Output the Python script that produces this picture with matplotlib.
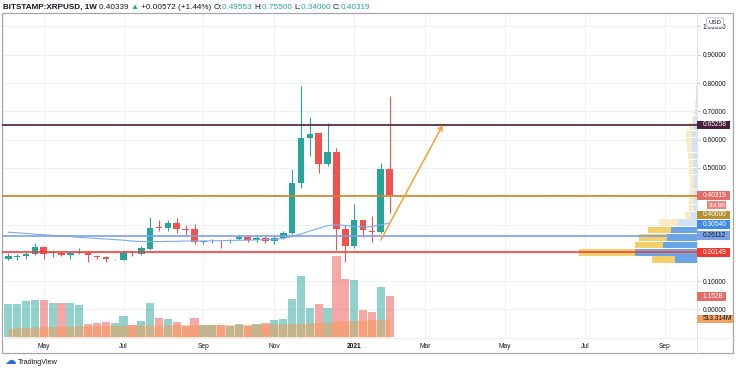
import numpy as np
import pandas as pd
import matplotlib
matplotlib.use('Agg')
import matplotlib.pyplot as plt
import matplotlib.dates as mdates
from matplotlib.patches import Rectangle
from matplotlib.lines import Line2D

plt.rcParams['font.family'] = ['Liberation Sans', 'DejaVu Sans']

# --- weekly candles, BITSTAMP:XRPUSD ---
weeks = pd.date_range('2020-04-06', periods=44, freq='7D')
opens = [0.178, 0.187, 0.189, 0.196, 0.220, 0.199, 0.201, 0.193, 0.200, 0.201,
         0.190, 0.187, 0.178, 0.175, 0.201, 0.196, 0.213, 0.290, 0.287, 0.305,
         0.284, 0.283, 0.240, 0.241, 0.243, 0.241, 0.248, 0.256, 0.245, 0.253,
         0.242, 0.252, 0.269, 0.446, 0.605, 0.623, 0.513, 0.557, 0.283, 0.225,
         0.316, 0.279, 0.273, 0.49553]
highs = [0.198, 0.197, 0.204, 0.236, 0.224, 0.210, 0.204, 0.207, 0.216, 0.206,
         0.193, 0.189, 0.180, 0.207, 0.207, 0.225, 0.328, 0.316, 0.316, 0.322,
         0.299, 0.302, 0.244, 0.248, 0.245, 0.250, 0.262, 0.259, 0.259, 0.259,
         0.259, 0.278, 0.495, 0.790, 0.681, 0.625, 0.660, 0.570, 0.300, 0.373,
         0.317, 0.330, 0.517, 0.755]
lows = [0.175, 0.176, 0.180, 0.193, 0.177, 0.185, 0.189, 0.178, 0.196, 0.169,
        0.178, 0.169, 0.175, 0.174, 0.190, 0.193, 0.210, 0.277, 0.277, 0.270,
        0.263, 0.233, 0.233, 0.236, 0.218, 0.236, 0.244, 0.240, 0.238, 0.235,
        0.232, 0.248, 0.265, 0.430, 0.542, 0.483, 0.508, 0.210, 0.169, 0.216,
        0.255, 0.237, 0.270, 0.340]
closes = [0.190, 0.190, 0.196, 0.220, 0.196, 0.202, 0.192, 0.201, 0.202, 0.192,
          0.185, 0.178, 0.179, 0.199, 0.198, 0.216, 0.289, 0.288, 0.305, 0.283,
          0.282, 0.240, 0.241, 0.243, 0.241, 0.244, 0.256, 0.245, 0.253, 0.242,
          0.253, 0.269, 0.446, 0.605, 0.620, 0.513, 0.557, 0.283, 0.225, 0.316,
          0.280, 0.273, 0.495, 0.40319]
# volume in billions XRP and its moving average
volumes = [0.93, 0.93, 1.02, 1.05, 1.04, 0.96, 0.96, 0.95, 0.90, 0.36,
           0.39, 0.42, 0.39, 0.59, 0.35, 0.44, 0.96, 0.53, 0.50, 0.43,
           0.31, 0.53, 0.35, 0.35, 0.35, 0.31, 0.38, 0.31, 0.38, 0.40,
           0.49, 0.51, 1.07, 1.73, 0.81, 0.93, 0.81, 2.29, 1.65, 1.62,
           0.77, 0.72, 1.41, 1.152]
volume_ma = [0.25, 0.26, 0.27, 0.28, 0.29, 0.30, 0.30, 0.31, 0.32, 0.32,
             0.32, 0.33, 0.33, 0.33, 0.33, 0.34, 0.34, 0.34, 0.34, 0.35,
             0.35, 0.35, 0.35, 0.35, 0.35, 0.35, 0.35, 0.36, 0.36, 0.36,
             0.37, 0.37, 0.38, 0.39, 0.40, 0.41, 0.42, 0.44, 0.46, 0.47,
             0.48, 0.49, 0.50, 0.513314]
price_ma = [0.273, 0.271, 0.269, 0.266, 0.264, 0.262, 0.260, 0.258, 0.255, 0.253,
            0.251, 0.249, 0.247, 0.245, 0.242, 0.240, 0.240, 0.240, 0.241, 0.241,
            0.242, 0.242, 0.242, 0.243, 0.243, 0.244, 0.245, 0.245, 0.246, 0.247,
            0.248, 0.251, 0.258, 0.267, 0.277, 0.287, 0.296, 0.299, 0.297, 0.293,
            0.292, 0.293, 0.299, 0.3054]

# horizontal levels drawn on the chart
level_prices = [0.65258, 0.40000, 0.26112, 0.20149]
level_colors = ['#4a1d38', '#c4931f', '#7b9fe4', '#f0413a']

# projected move (arrow)
arrow_from = ('2021-01-25', 0.2456)
arrow_to = ('2021-03-15', 0.65258)

# visible range volume profile: row centre price, up / down volume
prof_price = [0.176, 0.202, 0.228, 0.254, 0.281, 0.307, 0.333, 0.359, 0.385, 0.411,
              0.437, 0.463, 0.489, 0.515, 0.542, 0.568, 0.594, 0.620, 0.646, 0.672,
              0.698, 0.724, 0.750, 0.777]
prof_up = [23.6, 56, 27.4, 28, 23, 19, 6, 4.3, 5, 4.3,
           3.5, 3.5, 4, 4, 5, 5, 6, 6, 4, 2,
           1, 0.7, 0.4, 0.3]
prof_down = [21.7, 62, 34.3, 30, 26, 19.3, 6, 3.3, 3, 2.7,
             3, 3, 3.5, 4, 4, 4.5, 5, 5, 4, 3,
             2, 1.3, 1, 0.7]
value_area_rows = 5

# axis ticks
price_ticks = [0.0, 0.1, 0.2, 0.3, 0.4, 0.5, 0.6, 0.7, 0.8, 0.9, 1.0]
price_tick_labels = ['0.00000', '0.10000', '', '', '', '0.50000', '0.60000',
                     '0.70000', '0.80000', '0.90000', '1.00000']
month_ticks = pd.to_datetime(['2020-05-04', '2020-07-06', '2020-09-07', '2020-11-02',
                              '2021-01-04', '2021-03-01', '2021-05-03', '2021-07-05',
                              '2021-09-06'])
month_labels = ['May', 'Jul', 'Sep', 'Nov', '2021', 'Mar', 'May', 'Jul', 'Sep']

UP = '#26a69a'
DOWN = '#ef5350'
TXT = '#131722'

W, H = 736, 372
fig = plt.figure(figsize=(W / 100, H / 100), dpi=100)


def box(x0, y0, x1, y1):
    # pixel box, origin top-left -> figure fraction rect
    return [x0 / W, 1 - y1 / H, (x1 - x0) / W, (y1 - y0) / H]


plot_rect = box(2, 13, 697, 337)
scale_rect = box(697, 13, 733, 337)

bg = fig.add_axes(plot_rect, zorder=0)
prof_ax = fig.add_axes(plot_rect, zorder=1, sharey=bg)
vol_ax = fig.add_axes(plot_rect, zorder=2, sharex=bg)
ax = fig.add_axes(plot_rect, zorder=3, sharex=bg, sharey=bg)
scale_ax = fig.add_axes(scale_rect, zorder=4, sharey=bg)
vscale_ax = fig.add_axes(scale_rect, zorder=4, sharey=vol_ax)

# background axes: grid + tick labels
bg.set_xlim(pd.Timestamp('2020-04-01 01:00'), pd.Timestamp('2021-10-01 14:00'))
bg.set_ylim(-0.0972, 1.0477)
bg.set_yticks(price_ticks)
bg.set_yticklabels(price_tick_labels)
bg.set_xticks(month_ticks)
bg.set_xticklabels(month_labels)
for lab in bg.get_xticklabels():
    if lab.get_text() == '2021':
        lab.set_fontweight('bold')
bg.yaxis.tick_right()
bg.tick_params(axis='y', length=2, width=0.6, color='#b2b5be', pad=2,
               labelsize=4.8, labelcolor=TXT)
bg.tick_params(axis='x', length=0, pad=4, labelsize=4.8, labelcolor=TXT)
bg.grid(color='#eef0f6', lw=0.7)
for s in bg.spines.values():
    s.set_visible(False)

# volume profile on the right
prof_ax.set_xlim(695, 0)
prof_ax.axis('off')
row_h = 0.0235
for i, (p, u, d) in enumerate(zip(prof_price, prof_up, prof_down)):
    inside = i < value_area_rows
    prof_ax.barh(p, d, left=0, height=row_h, lw=0,
                 color='#6aa6e6' if inside else '#cfe2f7')
    prof_ax.barh(p, u, left=d, height=row_h, lw=0,
                 color='#f2d16b' if inside else '#fcebc2')

# candles
x = mdates.date2num(weeks)
o = np.array(opens)
c = np.array(closes)
colors = np.where(c >= o, UP, DOWN)
ax.vlines(x, lows, highs, colors=colors, lw=0.8)
ax.bar(x, np.maximum(np.abs(c - o), 0.002), bottom=np.minimum(o, c),
       width=5.2, color=colors, lw=0)
ax.plot(x, price_ma, color='#7eaaf0', lw=0.8)

for p, col in zip(level_prices, level_colors):
    ax.axhline(p, color=col, lw=1.2)
ax.axhline(closes[-1], color=DOWN, lw=0.6, ls=(0, (1, 1.5)))

ax.annotate('', xy=(mdates.datestr2num(arrow_to[0]), arrow_to[1]),
            xytext=(mdates.datestr2num(arrow_from[0]), arrow_from[1]),
            arrowprops=dict(arrowstyle='->', color='#f7a035', lw=1.1,
                            shrinkA=0, shrinkB=0, mutation_scale=8))
ax.axis('off')

# volume bars + moving average
vol_ax.set_ylim(0, 9.17)
vol_ax.bar(x, volumes, width=6.5, color=colors, alpha=0.5, lw=0)
vol_ax.fill_between(x, 0, volume_ma, color='#f39a52', alpha=0.5, lw=0)
vol_ax.axis('off')

# price scale tags
scale_ax.set_xlim(0, 1)
scale_ax.axis('off')
vscale_ax.set_xlim(0, 1)
vscale_ax.axis('off')

price_tags = [('0.65258', 0.65258, '#4a1d38', 'white'),
              ('0.40319', 0.40319, '#e56b67', 'white'),
              ('3d 9h', 0.40319, '#ea8783', 'white'),
              ('0.40000', 0.40000, '#b8912f', 'white'),
              ('0.30540', 0.30540, '#3f8de8', 'white'),
              ('0.26112', 0.26112, '#7aa0e6', TXT),
              ('0.20149', 0.20149, '#f23b2e', 'white')]
half = 0.0152
gap = 0.0343
prev = None
for txt, p, fc, tc in price_tags:
    y = p if prev is None else min(p, prev - gap)
    prev = y
    if txt == '3d 9h':
        scale_ax.add_patch(Rectangle((0.28, y - half), 0.52, 2 * half, fc=fc, ec='none'))
        scale_ax.text(0.54, y, txt, ha='center', va='center', fontsize=4.6, color=tc)
    else:
        scale_ax.add_patch(Rectangle((0.0, y - half), 0.93, 2 * half, fc=fc, ec='none'))
        scale_ax.text(0.15, y, txt, ha='left', va='center', fontsize=4.8, color=tc)

vol_tags = [('1.152B', volumes[-1], '#e56b67', 0.80),
            ('513.314M', volume_ma[-1], '#f3a15c', 1.0)]
for txt, v, fc, w in vol_tags:
    vscale_ax.add_patch(Rectangle((0.0, v - 0.122), w, 0.244, fc=fc, ec='none'))
    vscale_ax.text(0.15, v, txt, ha='left', va='center', fontsize=4.8,
                   color='white' if w < 1 else TXT)

# frame and separators
fig.add_artist(Rectangle((2 / W, 1 - 353 / H), 731 / W, 340 / H,
                         transform=fig.transFigure, fill=False,
                         ec='#a3a6af', lw=0.9))
fig.add_artist(Line2D([697 / W, 697 / W], [1 - 13 / H, 1 - 353 / H],
                      transform=fig.transFigure, color='#e0e3eb', lw=0.7))
fig.add_artist(Line2D([2 / W, 733 / W], [1 - 337.5 / H, 1 - 337.5 / H],
                      transform=fig.transFigure, color='#eceef3', lw=0.6))

fig.text(715 / W, 1 - 22.5 / H, 'USD', ha='center', va='center', fontsize=4.4,
         color=TXT, zorder=10,
         bbox=dict(boxstyle='round,pad=0.35', fc='white', ec='#b2b5be', lw=0.6))

# header line, pieces chained so each starts where the last ended
pieces = [('BITSTAMP:XRPUSD, 1W ', TXT, 'bold'), ('0.40339 ', TXT, 'normal'),
          ('▲ ', UP, 'normal'), ('+0.00572 (+1.44%) ', TXT, 'normal'),
          ('O:', TXT, 'normal'), ('0.49553 ', UP, 'normal'),
          ('H:', TXT, 'normal'), ('0.75500 ', UP, 'normal'),
          ('L:', TXT, 'normal'), ('0.34000 ', UP, 'normal'),
          ('C:', TXT, 'normal'), ('0.40319', UP, 'normal')]
t = ax.annotate(pieces[0][0], xy=(3 / W, 1 - 9 / H), xycoords='figure fraction',
                color=pieces[0][1], fontweight=pieces[0][2], fontsize=5.9,
                va='baseline', annotation_clip=False)
for s, col, wt in pieces[1:]:
    t = ax.annotate(s, xy=(1, 0), xycoords=t, color=col, fontweight=wt,
                    fontsize=5.9, va='bottom', annotation_clip=False)

# logo
fig.text(4 / W, 1 - 364 / H, '☁', color='#2a6ddb', fontsize=8.5,
         va='baseline', family='DejaVu Sans')
fig.text(18 / W, 1 - 363 / H, 'TradingView', color=TXT, fontsize=5.2,
         va='center')

fig.savefig('out.png', dpi=100)
